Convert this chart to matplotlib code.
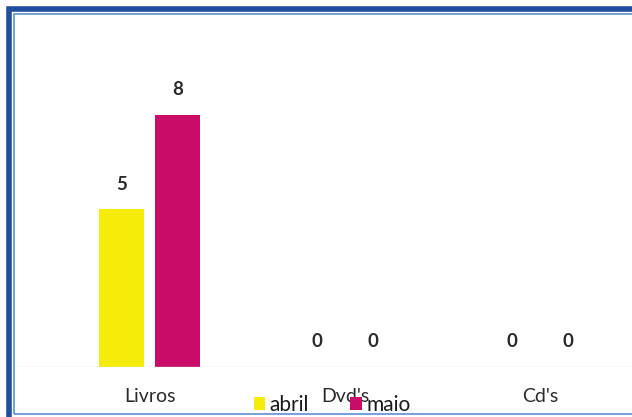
import matplotlib.pyplot as plt
from matplotlib.patches import Rectangle
import numpy as np

categories = ["Livros", "Dvd's", "Cd's"]
abril = [5, 0, 0]
maio = [8, 0, 0]

YELLOW = "#F6EC0A"
MAGENTA = "#C80C68"
BLUE_DARK = "#1F4E9E"
BLUE_LIGHT = "#5F8FD6"

plt.rcParams['font.family'] = ['Lato', 'DejaVu Sans']

W, H = 632, 417
fig = plt.figure(figsize=(W / 100, H / 100), dpi=100)
fig.patch.set_facecolor("white")

# axes from px x=14..632, y=14..367 (baseline)
ax = fig.add_axes([14 / W, (H - 367) / H, (W - 14) / W, (367 - 14) / H])
x = np.arange(len(categories))
px_per_unit = 195.0
ax.set_xlim((14 - 150) / px_per_unit, (632 - 150) / px_per_unit)
ax.set_ylim(0, (367 - 14) / 31.5)

bw = 45 / px_per_unit
off = 28 / px_per_unit
b1 = ax.bar(x - off, abril, bw, color=YELLOW, label="abril")
b2 = ax.bar(x + off, maio, bw, color=MAGENTA, label="maio")

for bars in (b1, b2):
    for r in bars:
        ax.annotate(str(int(r.get_height())), (r.get_x() + r.get_width() / 2, r.get_height()),
                    xytext=(0, 12), textcoords="offset points", ha="center", va="bottom",
                    fontsize=13.5, fontweight="bold", color="#2a2a2a")

ax.axhline(0, color="#DDDDDD", lw=1)
for s in ax.spines.values():
    s.set_visible(False)
ax.set_yticks([])
ax.set_xticks(x)
ax.set_xticklabels(categories, fontsize=14, color="#2a2a2a")
ax.tick_params(axis="x", length=0, pad=15)

ax.legend(loc="center", bbox_to_anchor=(332 / W, 12 / H), bbox_transform=fig.transFigure,
          ncol=2, frameon=False, fontsize=15, handlelength=0.55, handleheight=0.55,
          handletextpad=0.2, columnspacing=2.0, labelcolor="#1a1a1a")

# scanned blue frame
fig.add_artist(Rectangle((9 / W, -0.05), 1.2, (H - 9) / H + 0.05, transform=fig.transFigure,
                         fill=False, ec=BLUE_DARK, lw=4))
fig.add_artist(Rectangle((14 / W, 3 / H), 1.2, (H - 17) / H, transform=fig.transFigure,
                         fill=False, ec=BLUE_LIGHT, lw=1.2))

fig.savefig("out.png", dpi=100)
